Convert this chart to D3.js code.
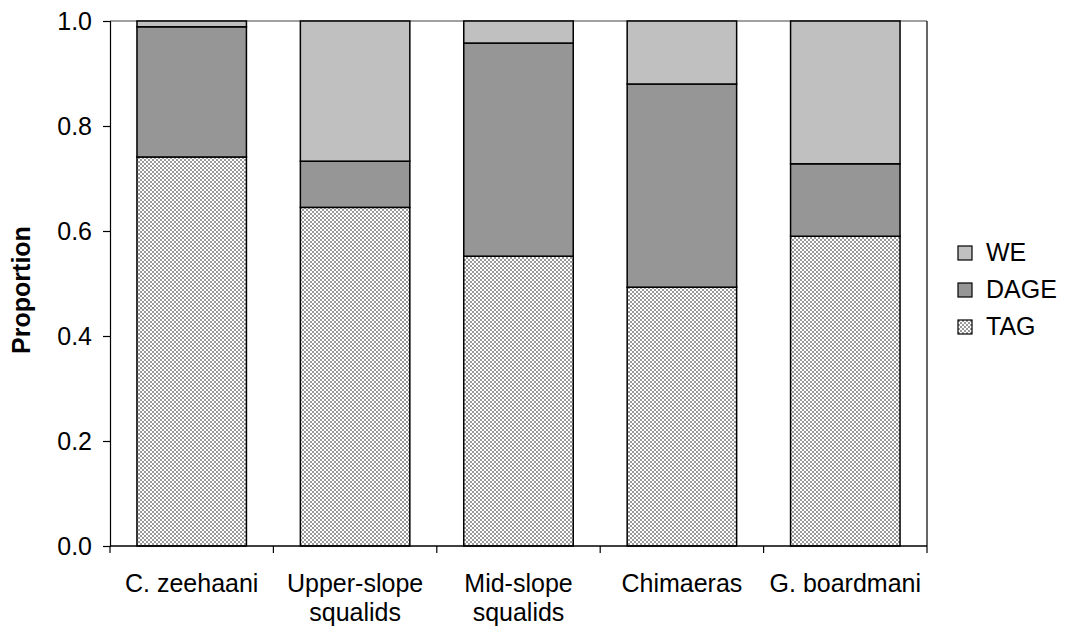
<!DOCTYPE html>
<html>
<head>
<meta charset="utf-8">
<script src="https://cdn.jsdelivr.net/npm/d3@7"></script>
<style>
  body { margin: 0; background: #fff; }
  text { font-family: "Liberation Sans", Arial, sans-serif; fill: #000; }
</style>
</head>
<body>
<div id="chart"></div>
<script>
var categories = [["C. zeehaani"], ["Upper-slope", "squalids"], ["Mid-slope", "squalids"], ["Chimaeras"], ["G. boardmani"]];
var tag  = [0.741, 0.645, 0.552, 0.493, 0.590];
var dage = [0.248, 0.088, 0.406, 0.387, 0.138];
var we   = [0.011, 0.267, 0.042, 0.120, 0.272];
var seriesNames = ["TAG", "DAGE", "WE"];
var yTicks = [0, 0.2, 0.4, 0.6, 0.8, 1.0];

var width = 1065, height = 629;
var margin = { left: 110, right: 138, top: 21, bottom: 83 };
var innerW = width - margin.left - margin.right;
var innerH = height - margin.top - margin.bottom;
var fontSize = "25px";

var svg = d3.select("#chart").append("svg")
    .attr("width", width)
    .attr("height", height);

// checker pattern for TAG
var defs = svg.append("defs");
var pat = defs.append("pattern")
    .attr("id", "checker")
    .attr("patternUnits", "userSpaceOnUse")
    .attr("width", 4).attr("height", 4);
pat.append("rect").attr("width", 4).attr("height", 4).attr("fill", "#fff");
pat.append("rect").attr("width", 2).attr("height", 2).attr("fill", "#9a9a9a");
pat.append("rect").attr("x", 2).attr("y", 2).attr("width", 2).attr("height", 2).attr("fill", "#9a9a9a");

var fills = { TAG: "url(#checker)", DAGE: "#969696", WE: "#c0c0c0" };

var rows = categories.map(function (c, i) {
    return { idx: i, TAG: tag[i], DAGE: dage[i], WE: we[i] };
});
var stacked = d3.stack().keys(seriesNames)(rows);

var x = d3.scaleBand()
    .domain(d3.range(categories.length))
    .range([0, innerW])
    .paddingInner(0.33)
    .paddingOuter(0.165);

var y = d3.scaleLinear().domain([0, 1]).range([innerH, 0]);

var g = svg.append("g").attr("transform", "translate(" + margin.left + "," + margin.top + ")");

// plot frame: top (grey) and right border
g.append("line").attr("x1", 0).attr("x2", innerW).attr("y1", 0).attr("y2", 0)
    .attr("stroke", "#808080").attr("stroke-width", 1.5);
g.append("line").attr("x1", innerW).attr("x2", innerW).attr("y1", 0).attr("y2", innerH)
    .attr("stroke", "#000").attr("stroke-width", 1.2);

// bars
g.selectAll(".series")
    .data(stacked)
  .enter().append("g")
    .attr("class", "series")
    .attr("fill", function (d) { return fills[d.key]; })
  .selectAll("rect")
    .data(function (d) { return d; })
  .enter().append("rect")
    .attr("x", function (d) { return x(d.data.idx); })
    .attr("width", x.bandwidth())
    .attr("y", function (d) { return y(d[1]); })
    .attr("height", function (d) { return y(d[0]) - y(d[1]); })
    .attr("stroke", "#000")
    .attr("stroke-width", 1.5);

// y axis
var yAxis = g.append("g")
    .call(d3.axisLeft(y).tickValues(yTicks).tickFormat(d3.format(".1f")).tickSize(7).tickPadding(11));
yAxis.attr("font-size", null).attr("font-family", null);
yAxis.select(".domain").attr("stroke", "#000").attr("stroke-width", 1.2);
yAxis.selectAll(".tick line").attr("stroke", "#000").attr("stroke-width", 1.2);
yAxis.selectAll("text").style("font-size", fontSize);

// x axis: ticks at band boundaries
var step = innerW / categories.length;
var xb = g.append("g").attr("transform", "translate(0," + innerH + ")");
xb.append("line").attr("x1", 0).attr("x2", innerW)
    .attr("stroke", "#000").attr("stroke-width", 1.5);
xb.selectAll(".xtick")
    .data(d3.range(categories.length + 1))
  .enter().append("line")
    .attr("x1", function (d) { return d * step; })
    .attr("x2", function (d) { return d * step; })
    .attr("y1", 0).attr("y2", 7)
    .attr("stroke", "#000").attr("stroke-width", 1.2);

var labels = xb.selectAll(".xlabel")
    .data(categories)
  .enter().append("text")
    .attr("text-anchor", "middle")
    .style("font-size", fontSize)
    .attr("transform", function (d, i) { return "translate(" + (x(i) + x.bandwidth() / 2) + ",46)"; });
labels.selectAll("tspan")
    .data(function (d) { return d; })
  .enter().append("tspan")
    .attr("x", 0)
    .attr("dy", function (d, i) { return i === 0 ? 0 : 29; })
    .text(function (d) { return d; });

// y title
svg.append("text")
    .attr("transform", "translate(30,290) rotate(-90)")
    .attr("text-anchor", "middle")
    .style("font-size", fontSize)
    .style("font-weight", "bold")
    .text("Proportion");

// legend (top to bottom: WE, DAGE, TAG)
var legendItems = seriesNames.slice().reverse();
var legend = svg.append("g").attr("transform", "translate(958,246)");
var li = legend.selectAll(".li")
    .data(legendItems)
  .enter().append("g")
    .attr("transform", function (d, i) { return "translate(0," + (i * 37) + ")"; });
li.append("rect")
    .attr("width", 14).attr("height", 14)
    .attr("fill", function (d) { return fills[d]; })
    .attr("stroke", "#000").attr("stroke-width", 1.2);
li.append("text")
    .attr("x", 28).attr("y", 15)
    .style("font-size", fontSize)
    .text(function (d) { return d; });
</script>
</body>
</html>
